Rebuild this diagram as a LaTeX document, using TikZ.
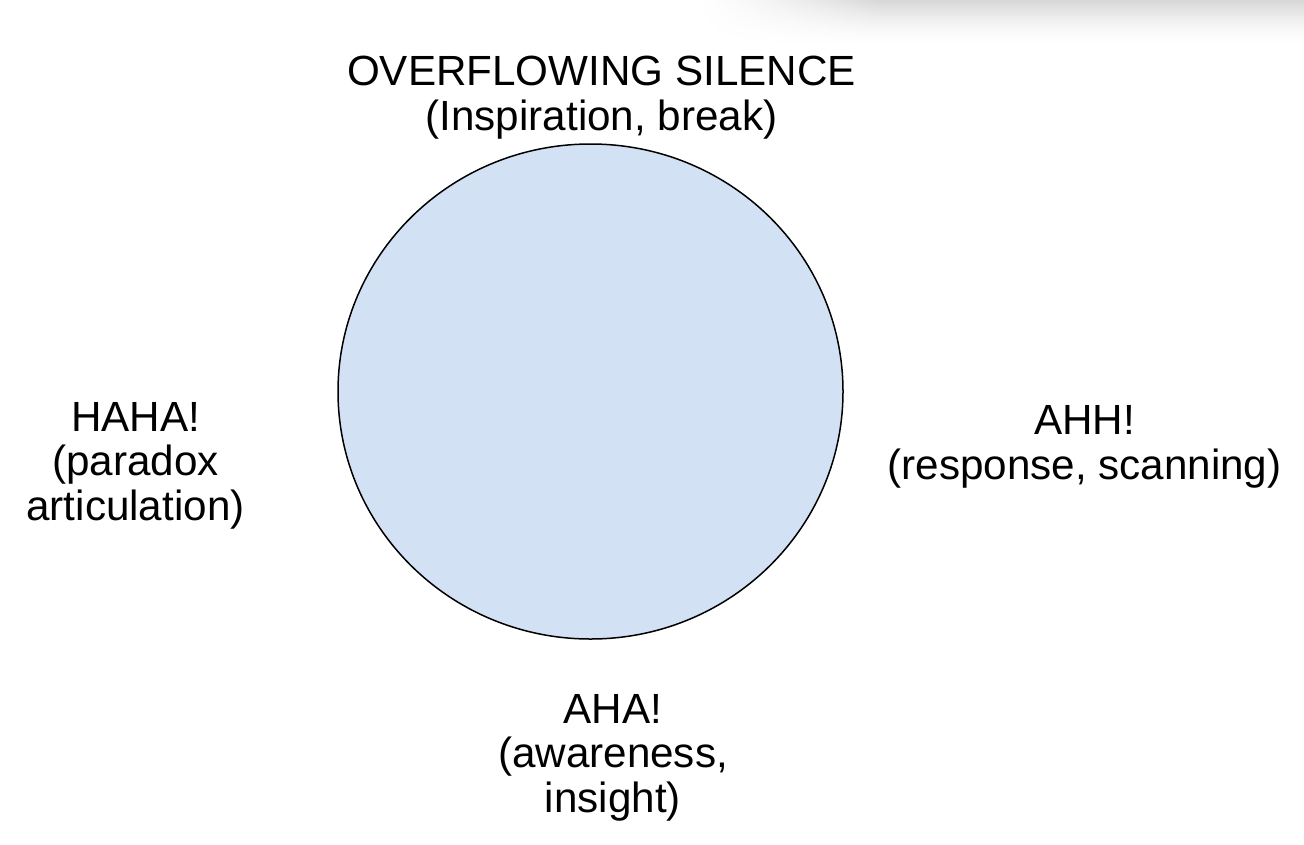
\documentclass[tikz,border=0pt]{standalone}
\usepackage{fontspec}
\setmainfont{Liberation Sans}
\usetikzlibrary{shapes.geometric}
\definecolor{circfill}{HTML}{D2E2F4}
\begin{document}
\begin{tikzpicture}[x=1pt,y=-1pt,
  lbl/.style={align=center,inner sep=0pt,font=\fontsize{42.2}{44.5}\selectfont,anchor=base}]
\useasboundingbox (0,0) rectangle (1304,844);
% top-right shadow (drawn as small solid cells)
\foreach \j in {0,...,22} {
  \pgfmathsetmacro{\ya}{\j*2}
  \pgfmathsetmacro{\g}{16*(1-(\j+0.5)/23)^1.6}
  \fill[black!\g] (880,\ya) rectangle (1304,\ya+2.2);
  \foreach \i in {0,...,35} {
    \pgfmathsetmacro{\xa}{700+\i*5}
    \pgfmathsetmacro{\v}{\g*((\i+0.5)/36)^1.3}
    \fill[black!\v] (\xa,\ya) rectangle (\xa+5.2,\ya+2.2);
  }
}
% circle
\node[ellipse,draw=black,line width=1.5pt,fill=circfill,minimum width=505pt,minimum height=495pt,inner sep=0pt] (c) at (590.5,391.5) {};
% labels
\node[lbl] (top) at (601.5,130) {OVERFLOWING SILENCE\\(Inspiration, break)};
\node[lbl] (left) at (135.5,520) {HAHA!\\(paradox\\articulation)};
\node[lbl] (right) at (1084.5,479) {AHH!\\(response, scanning)};
\node[lbl] (bottom) at (613,812) {AHA!\\(awareness,\\insight)};
\end{tikzpicture}
\end{document}
